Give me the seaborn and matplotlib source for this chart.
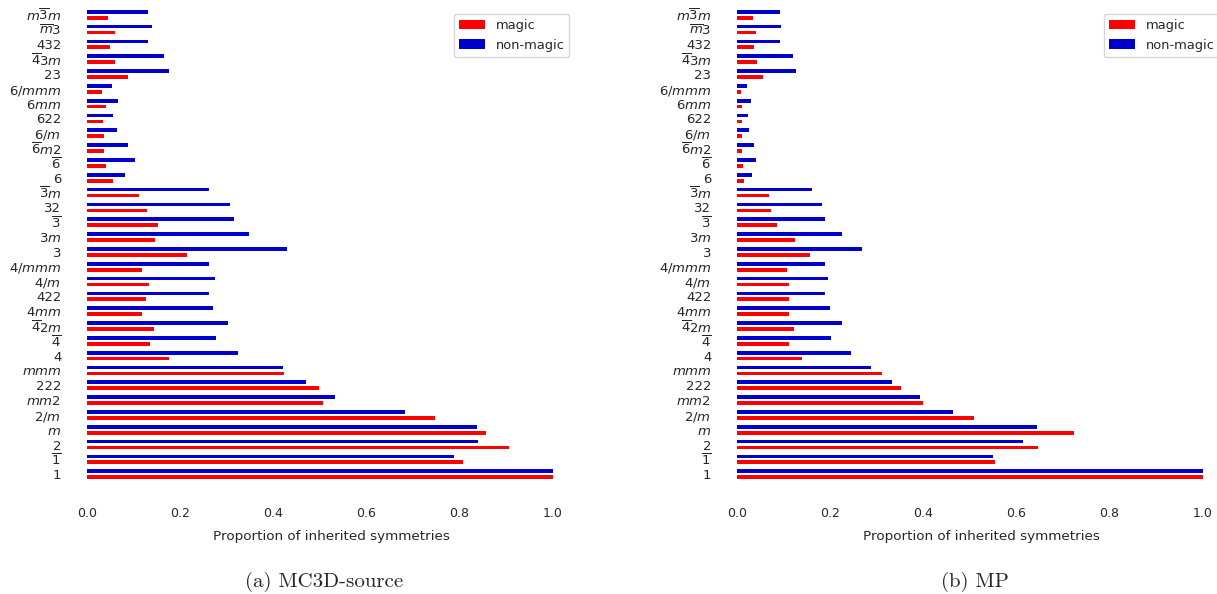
import matplotlib
matplotlib.use('Agg')
import matplotlib.pyplot as plt
import pandas as pd
import seaborn as sns
sns.set_style('white')

# point groups, listed from the top of the chart down
point_groups = [r'$m\overline{3}m$', r'$\overline{m}3$', '432', r'$\overline{4}3m$', '23',
                r'$6/mmm$', r'$6mm$', '622', r'$6/m$', r'$\overline{6}m2$', r'$\overline{6}$', '6',
                r'$\overline{3}m$', '32', r'$\overline{3}$', r'$3m$', '3',
                r'$4/mmm$', r'$4/m$', '422', r'$4mm$', r'$\overline{4}2m$', r'$\overline{4}$', '4',
                r'$mmm$', '222', r'$mm2$', r'$2/m$', r'$m$', '2', r'$\overline{1}$', '1']

mc3d_magic = [0.046, 0.060, 0.049, 0.061, 0.088,
              0.032, 0.040, 0.034, 0.036, 0.036, 0.041, 0.056,
              0.112, 0.128, 0.152, 0.145, 0.215,
              0.117, 0.134, 0.126, 0.119, 0.144, 0.136, 0.175,
              0.423, 0.498, 0.506, 0.747, 0.857, 0.906, 0.808, 1.0]
mc3d_non_magic = [0.132, 0.139, 0.132, 0.165, 0.175,
                  0.054, 0.066, 0.056, 0.065, 0.088, 0.104, 0.082,
                  0.262, 0.308, 0.315, 0.347, 0.430,
                  0.262, 0.274, 0.263, 0.271, 0.302, 0.278, 0.325,
                  0.421, 0.471, 0.533, 0.682, 0.837, 0.840, 0.787, 1.0]

mp_magic = [0.034, 0.041, 0.036, 0.042, 0.056,
            0.009, 0.011, 0.010, 0.010, 0.011, 0.012, 0.014,
            0.069, 0.074, 0.086, 0.124, 0.156,
            0.107, 0.111, 0.111, 0.112, 0.122, 0.112, 0.139,
            0.312, 0.352, 0.400, 0.508, 0.724, 0.647, 0.554, 1.0]
mp_non_magic = [0.092, 0.095, 0.092, 0.121, 0.126,
                0.021, 0.029, 0.023, 0.025, 0.037, 0.041, 0.032,
                0.162, 0.182, 0.189, 0.226, 0.268,
                0.188, 0.196, 0.188, 0.199, 0.226, 0.201, 0.245,
                0.288, 0.332, 0.393, 0.464, 0.645, 0.615, 0.549, 1.0]

captions = ['(a) MC3D-source', '(b) MP']
colors = {'magic': 'red', 'non-magic': '#0000cc'}


def long_table(magic, non_magic):
    return pd.DataFrame({
        'group': point_groups * 2,
        'value': magic + non_magic,
        'kind': ['magic'] * len(magic) + ['non-magic'] * len(non_magic),
    })


def draw(ax, magic, non_magic):
    sns.barplot(data=long_table(magic, non_magic), x='value', y='group', hue='kind',
                order=point_groups, hue_order=['non-magic', 'magic'], palette=colors,
                orient='h', width=0.8, gap=0.375, saturation=1, linewidth=0,
                errorbar=None, ax=ax)
    ax.set_xlim(0, 1.05)
    ax.set_ylim(len(point_groups) - 0.5, -0.5)
    ax.set_xticks([0.0, 0.2, 0.4, 0.6, 0.8, 1.0])
    ax.set_xticklabels(['0.0', '0.2', '0.4', '0.6', '0.8', '1.0'])
    ax.tick_params(axis='x', labelsize=9)
    ax.tick_params(axis='y', labelsize=9.5)
    ax.set_xlabel('Proportion of inherited symmetries', fontsize=9.7, labelpad=7)
    ax.set_ylabel('')
    for side in ['top', 'right', 'left', 'bottom']:
        ax.spines[side].set_visible(False)
    ax.spines['left'].set_position(('outward', 11.5))
    ax.spines['bottom'].set_position(('outward', 11.5))
    handles, labels = ax.get_legend_handles_labels()
    ax.legend(handles[::-1], labels[::-1], loc='upper right', fontsize=9.4)


fig = plt.figure(figsize=(12.17, 5.94), dpi=100)
ax1 = fig.add_axes([0.0715, 0.1892, 0.4018, 0.7985])
ax2 = fig.add_axes([0.6056, 0.1892, 0.4018, 0.7985])

draw(ax1, mc3d_magic, mc3d_non_magic)
draw(ax2, mp_magic, mp_non_magic)

fig.text(0.266, 0.02, captions[0], ha='center', va='center', fontsize=15, family='cmr10')
fig.text(0.801, 0.02, captions[1], ha='center', va='center', fontsize=15, family='cmr10')

fig.savefig('out.png', dpi=100)
